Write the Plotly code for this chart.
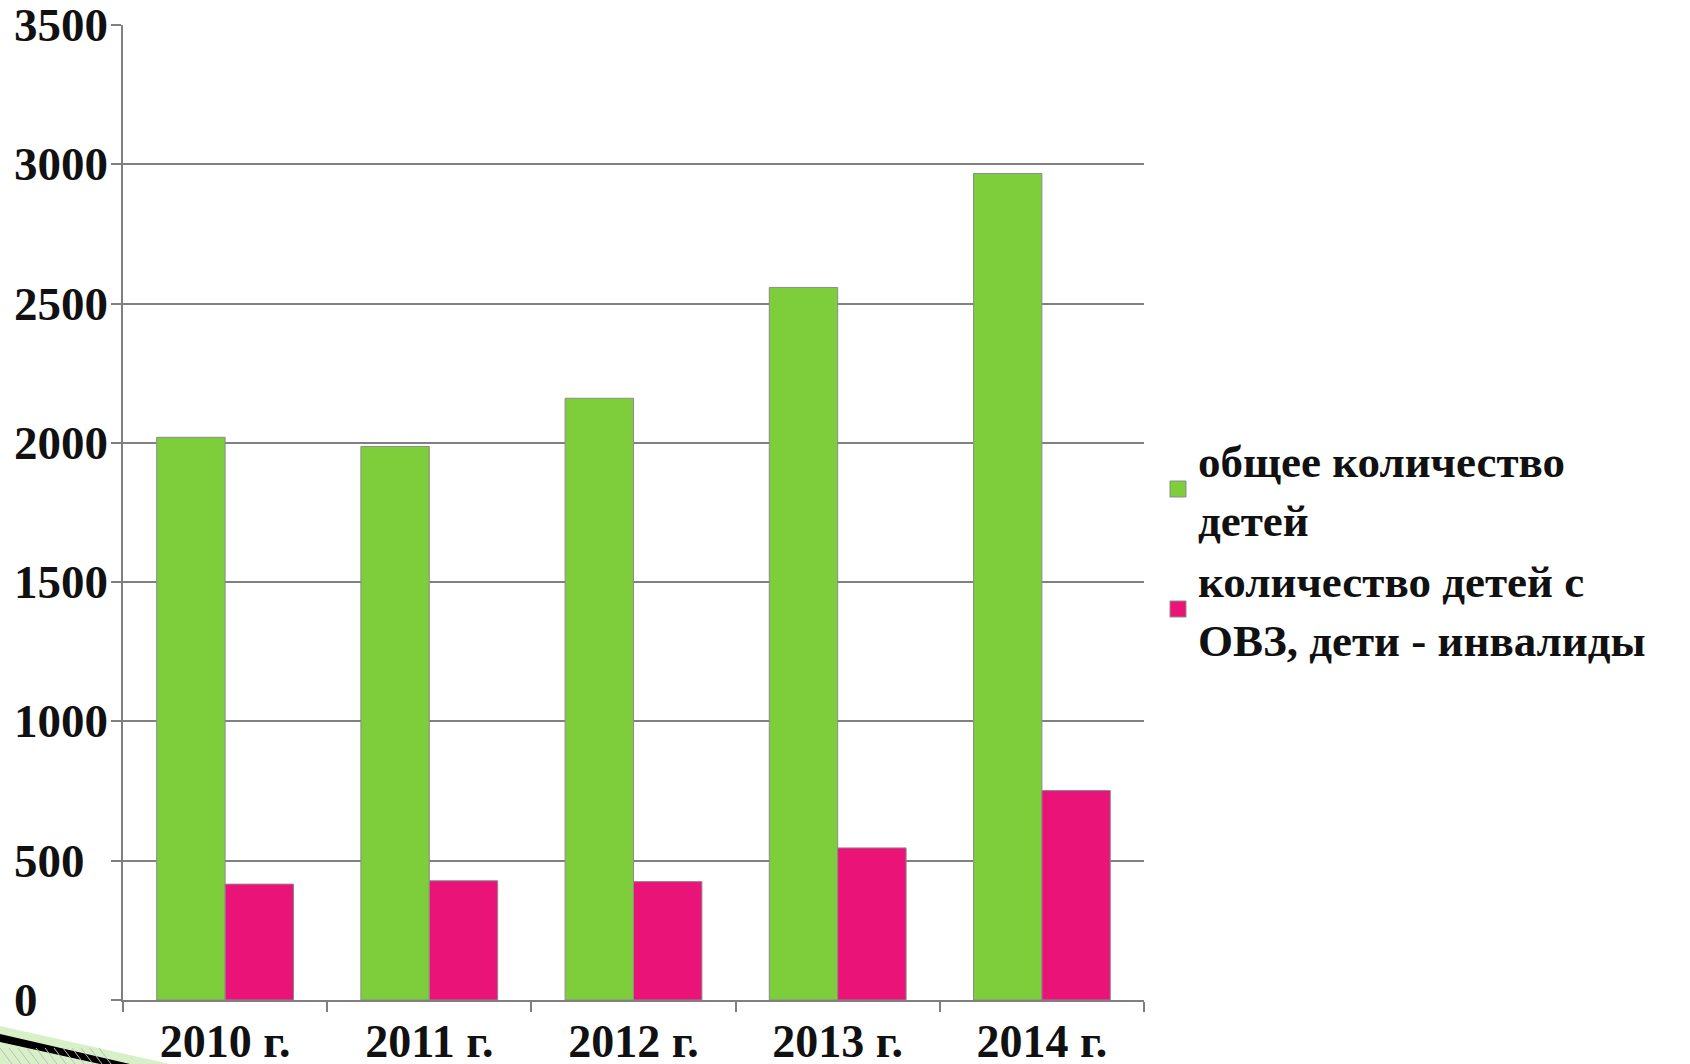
import plotly.graph_objects as go

categories = ["2010 г.", "2011 г.", "2012 г.", "2013 г.", "2014 г."]
total_children = [2020, 1987, 2160, 2558, 2967]
disabled_children = [416, 428, 425, 546, 752]
series_names = ["общее количество<br>детей", "количество детей с<br>ОВЗ, дети - инвалиды"]
y_ticks = [0, 500, 1000, 1500, 2000, 2500, 3000, 3500]

GREEN = "#7DCE3A"
PINK = "#EA1478"
FONT = "Liberation Serif"

W, H = 1690, 1064
L, R, T, B = 123, 546, 25, 64
PW, PH = W - L - R, H - T - B

def px2paper(px, py):
    return (px - L) / PW, (H - B - py) / PH

fig = go.Figure()
fig.add_trace(go.Bar(x=categories, y=total_children, marker=dict(color=GREEN, line=dict(color="#8c8c8c", width=1)),
                     showlegend=False, name=series_names[0]))
fig.add_trace(go.Bar(x=categories, y=disabled_children, marker=dict(color=PINK, line=dict(color="#8c8c8c", width=1)),
                     showlegend=False, name=series_names[1]))
# legend entries
for nm, col in zip(series_names, [GREEN, PINK]):
    fig.add_trace(go.Scatter(x=[None], y=[None], mode="markers", name=nm,
                             marker=dict(symbol="square", size=18, color=col, line=dict(color="#8c8c8c", width=1))))

annotations = []
for v in y_ticks:
    annotations.append(dict(xref="paper", yref="y", x=(12 - L) / PW, y=v, xanchor="left", yanchor="middle",
                            text=str(v), showarrow=False,
                            font=dict(family=FONT, size=47, color="#111111", weight="bold")))

# decorative wedge bottom-left
def path(points):
    s = ""
    for i, (px, py) in enumerate(points):
        x, y = px2paper(px, py)
        s += ("M" if i == 0 else "L") + f"{x:.5f},{y:.5f} "
    return s + "Z"

shapes = [
    dict(type="path", xref="paper", yref="paper", path=path([(0, 1026), (170, 1064), (0, 1064)]),
         fillcolor="#D8F0C8", line=dict(width=0), layer="above"),
    dict(type="path", xref="paper", yref="paper", path=path([(0, 1034), (130, 1064), (100, 1064), (0, 1042)]),
         fillcolor="#000000", line=dict(width=0), layer="above"),
]
for k in range(0, 100, 9):
    x0, y0 = px2paper(k, 1048)
    x1, y1 = px2paper(k + 12, 1064)
    shapes.append(dict(type="line", xref="paper", yref="paper", x0=x0, y0=y0, x1=x1, y1=y1,
                       line=dict(color="#BBBBBB", width=1), layer="above"))

fig.update_layout(
    width=W, height=H,
    margin=dict(l=L, r=R, t=T, b=B, autoexpand=False),
    paper_bgcolor="white", plot_bgcolor="white",
    barmode="group", bargap=0.33, bargroupgap=0,
    font=dict(family=FONT, color="#111111"),
    xaxis=dict(showline=True, linecolor="#7f7f7f", linewidth=2, ticks="outside", ticklen=10, tickwidth=2,
               tickcolor="#7f7f7f", tickson="boundaries",
               tickfont=dict(family=FONT, size=46, color="#111111", weight="bold"), showgrid=False),
    yaxis=dict(range=[0, 3500], tickvals=y_ticks, showticklabels=False, showgrid=True, gridcolor="#808080",
               gridwidth=2, showline=True, linecolor="#7f7f7f", linewidth=2, ticks="outside", ticklen=10,
               tickwidth=2, tickcolor="#7f7f7f", zeroline=False),
    legend=dict(x=px2paper(1158, 0)[0], xanchor="left", y=px2paper(0, 549)[1], yanchor="middle",
                font=dict(family=FONT, size=45, color="#111111", weight="bold"),
                bgcolor="rgba(0,0,0,0)", itemsizing="trace"),
    annotations=annotations,
    shapes=shapes,
)

fig.write_html("out.html", config={"displayModeBar": False},
               post_script="document.body.style.margin='0';document.body.style.overflow='hidden';")
